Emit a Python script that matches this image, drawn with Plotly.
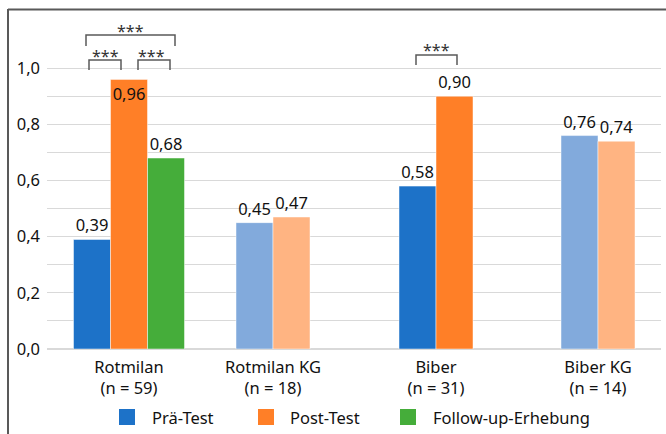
import plotly.graph_objects as go

# ---------------- data ----------------
groups = ["Rotmilan<br>(n = 59)", "Rotmilan KG<br>(n = 18)", "Biber<br>(n = 31)", "Biber KG<br>(n = 14)"]
pre_test = [0.39, 0.45, 0.58, 0.76]
post_test = [0.96, 0.47, 0.90, 0.74]
follow_up = [0.68, None, None, None]
series_names = ["Prä-Test", "Post-Test", "Follow-up-Erhebung"]
significance = ["***", "***", "***", "***"]

# ---------------- layout constants (pixel-like axis units) ----------------
W, H = 666, 434
PL, PR, PT, PB = 47, 661, 12, 349
Y_MAX = 1.2
GROUP_CENTERS = [129, 273, 436, 598]
BAR_W = 37
FONT = "Noto Sans"
FS = 16.5
TXT = "#111111"

C_PRE, C_POST, C_FU = "#1d72c8", "#ff7f27", "#45ad3a"
C_PRE_KG, C_POST_KG = "#82aadc", "#ffb482"
is_kg = [False, True, False, True]


def py2data(p):
    return (PB - p) / (PB - PT) * Y_MAX


def px2paper(p):
    return (p - PL) / (PR - PL)


def py2paper(p):
    return (PB - p) / (PB - PT)


fig = go.Figure()

n_series = [3 if v is not None else 2 for v in follow_up]
x_pre, x_post, x_fu = [], [], []
for c, n in zip(GROUP_CENTERS, n_series):
    if n == 3:
        x_pre.append(c - BAR_W); x_post.append(c); x_fu.append(c + BAR_W)
    else:
        x_pre.append(c - BAR_W / 2); x_post.append(c + BAR_W / 2); x_fu.append(c)

common = dict(width=BAR_W, texttemplate="%{y:.2f}", constraintext="none", textangle=0,
              cliponaxis=False, showlegend=False,
              textfont=dict(family=FONT, size=FS, color=TXT),
              insidetextfont=dict(family=FONT, size=FS, color=TXT),
              outsidetextfont=dict(family=FONT, size=FS, color=TXT))

fig.add_trace(go.Bar(x=x_pre, y=pre_test, name=series_names[0],
                     marker=dict(color=[C_PRE_KG if k else C_PRE for k in is_kg],
                                 line=dict(color="rgba(255,255,255,0.6)", width=0.8)),
                     textposition="outside", **common))
post_pos = ["inside" if v > 0.93 else "outside" for v in post_test]
fig.add_trace(go.Bar(x=x_post, y=post_test, name=series_names[1],
                     marker=dict(color=[C_POST_KG if k else C_POST for k in is_kg],
                                 line=dict(color="rgba(255,255,255,0.6)", width=0.8)),
                     textposition=post_pos, insidetextanchor="end", **common))
fig.add_trace(go.Bar(x=x_fu, y=follow_up, name=series_names[2],
                     marker=dict(color=C_FU, line=dict(color="rgba(255,255,255,0.6)", width=0.8)),
                     textposition="outside", **common))

# ---------------- significance brackets ----------------
brackets = [  # (x0, x1, y_leg_px, y_top_px, star_x, star_y_px)
    (89, 121, 70, 60, 105.5, 53.5),
    (138, 170, 70, 60, 151.5, 53.5),
    (86, 175, 46, 35, 130, 28.5),
    (416, 457, 65, 55, 436, 47.5),
]
for (x0, x1, yl, yt, sx, sy), s in zip(brackets, significance):
    fig.add_trace(go.Scatter(x=[x0, x0, x1, x1], y=[py2data(yl), py2data(yt), py2data(yt), py2data(yl)],
                             mode="lines", line=dict(color="#595959", width=1.5),
                             showlegend=False, hoverinfo="skip", cliponaxis=False))
    fig.add_annotation(x=sx, y=py2data(sy + 2.5), text=s, showarrow=False, xanchor="center", yanchor="middle",
                       font=dict(family=FONT, size=16, color="#333333"))

# ---------------- legend (manual) ----------------
legend_items = [(119, 150, C_PRE), (258, 288, C_POST), (400, 431, C_FU)]
shapes = []
for (sq_x, tx, col), name in zip(legend_items, series_names):
    shapes.append(dict(type="rect", xref="paper", yref="paper",
                       x0=px2paper(sq_x), x1=px2paper(sq_x + 16), y0=py2paper(425), y1=py2paper(409),
                       fillcolor=col, line=dict(width=0)))
    fig.add_annotation(xref="paper", yref="paper", x=px2paper(tx), y=py2paper(417), text=name,
                       showarrow=False, xanchor="left", yanchor="middle",
                       font=dict(family=FONT, size=FS, color=TXT))

# ---------------- frame (top + left lines) ----------------
shapes.append(dict(type="line", xref="paper", yref="paper", x0=px2paper(8), x1=px2paper(666),
                   y0=py2paper(9.5), y1=py2paper(9.5), line=dict(color="#595959", width=2)))
shapes.append(dict(type="line", xref="paper", yref="paper", x0=px2paper(8), x1=px2paper(8),
                   y0=py2paper(9), y1=py2paper(434), line=dict(color="#595959", width=2)))

fig.update_layout(
    width=W, height=H, autosize=False,
    margin=dict(l=PL, r=W - PR, t=PT, b=H - PB, pad=0),
    paper_bgcolor="white", plot_bgcolor="white",
    barmode="overlay", separators=",.",
    font=dict(family=FONT, size=FS, color=TXT),
    shapes=shapes,
    xaxis=dict(range=[PL, PR], tickvals=GROUP_CENTERS, ticktext=groups, showgrid=False,
               zeroline=False, showline=False, ticks="", fixedrange=True, ticklabelstandoff=6,
               tickfont=dict(family=FONT, size=FS, color=TXT)),
    yaxis=dict(range=[0, Y_MAX], tickvals=[0, 0.2, 0.4, 0.6, 0.8, 1.0], tickformat=".1f",
               showgrid=True, gridcolor="#d9d9d9", gridwidth=1,
               minor=dict(tickvals=[0.1, 0.3, 0.5, 0.7, 0.9], showgrid=True, gridcolor="#d9d9d9", gridwidth=1),
               zeroline=True, zerolinecolor="#d9d9d9", zerolinewidth=1.5,
               showline=False, ticks="", ticklabelstandoff=6, fixedrange=True,
               tickfont=dict(family=FONT, size=FS, color=TXT)),
)

fig.write_html("out.html", config={"displayModeBar": False},
               post_script="document.body.style.margin='0';document.body.style.overflow='hidden';")
